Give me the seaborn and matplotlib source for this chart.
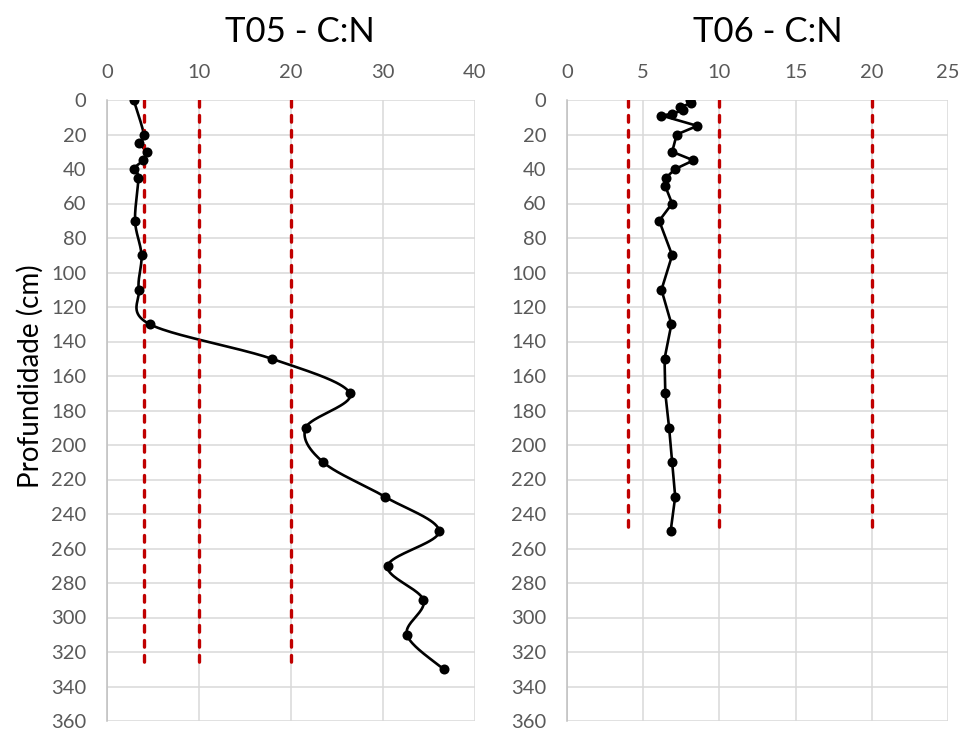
import numpy as np
import pandas as pd
import matplotlib
matplotlib.use("Agg")
import matplotlib.pyplot as plt
import seaborn as sns

# --- C:N profile, trench T05 ---
t05_depth = [0, 20, 25, 30, 35, 40, 45, 70, 90, 110, 130, 150, 170, 190,
             210, 230, 250, 270, 290, 310, 330]
t05_cn = [2.9, 4.0, 3.5, 4.3, 3.9, 2.9, 3.4, 3.05, 3.75, 3.45, 4.65, 17.9,
          26.4, 21.6, 23.5, 30.2, 36.1, 30.5, 34.4, 32.6, 36.6]

# --- C:N profile, trench T06 ---
t06_depth = [0, 2, 4, 6, 8, 9, 15, 20, 30, 35, 40, 45, 50, 60, 70, 90, 110,
             130, 150, 170, 190, 210, 230, 250]
t06_cn = [8.1, 8.15, 7.4, 7.6, 6.9, 6.2, 8.55, 7.2, 6.9, 8.3, 7.1, 6.5, 6.45,
          6.9, 6.05, 6.9, 6.2, 6.85, 6.4, 6.45, 6.7, 6.9, 7.1, 6.8]

# reference C:N thresholds (dashed red lines) and their depth span
ref_cn = [4, 10, 20]
t05_ref_depth = [0, 330]
t06_ref_depth = [0, 250]

t05_xticks = [0, 10, 20, 30, 40]
t06_xticks = [0, 5, 10, 15, 20, 25]
depth_ticks = list(range(0, 361, 20))

titles = ["T05 - C:N", "T06 - C:N"]
ylabel = "Profundidade (cm)"

sns.set_theme(style="white")
plt.rcParams["font.family"] = ["Lato", "DejaVu Sans"]

FIG_W, FIG_H = 963, 733
fig = plt.figure(figsize=(FIG_W / 100, FIG_H / 100), dpi=100)

GRID = "#D9D9D9"
TICK = "#595959"
RED = "#C00000"


def smooth_curve(xs, ys, sx, sy, n=40):
    """Bezier smoothing through every point (spreadsheet-style smoothed line)."""
    P = np.column_stack([np.asarray(xs, float) * sx, np.asarray(ys, float) * sy])
    ext = np.vstack([P[0], P, P[-1]])
    t = np.linspace(0, 1, n)[:, None]
    parts = []
    for i in range(len(P) - 1):
        p0, p1, p2, p3 = ext[i], ext[i + 1], ext[i + 2], ext[i + 3]
        c1 = p1 + (p2 - p0) / 6
        c2 = p2 - (p3 - p1) / 6
        seg = (1 - t) ** 3 * p1 + 3 * (1 - t) ** 2 * t * c1 + 3 * (1 - t) * t ** 2 * c2 + t ** 3 * p2
        parts.append(seg if i == 0 else seg[1:])
    pts = np.vstack(parts)
    return pts[:, 0] / sx, pts[:, 1] / sy


def style_axes(ax, xmax, xticks):
    ax.set_xlim(0, xmax)
    ax.set_ylim(360, 0)
    ax.set_xticks(xticks)
    ax.set_yticks(depth_ticks)
    ax.xaxis.tick_top()
    ax.tick_params(axis="x", length=0, pad=14, labelsize=14.5, labelcolor=TICK)
    ax.tick_params(axis="y", length=0, pad=15, labelsize=14.5, labelcolor=TICK)
    ax.grid(True, color=GRID, linewidth=1.1)
    ax.set_axisbelow(True)
    for side in ["top", "right", "bottom"]:
        ax.spines[side].set_visible(False)
    ax.spines["left"].set_color("#BFBFBF")
    ax.spines["left"].set_linewidth(1.1)
    ax.set_xlabel("")
    ax.set_ylabel("")


BOTTOM = 12
HEIGHT = 621
panels = [
    dict(rect=[107 / FIG_W, BOTTOM / FIG_H, 368 / FIG_W, HEIGHT / FIG_H], xmax=40,
         xticks=t05_xticks, depth=t05_depth, cn=t05_cn, ref_depth=t05_ref_depth,
         smooth=True, title_x=300),
    dict(rect=[567 / FIG_W, BOTTOM / FIG_H, 381 / FIG_W, HEIGHT / FIG_H], xmax=25,
         xticks=t06_xticks, depth=t06_depth, cn=t06_cn, ref_depth=t06_ref_depth,
         smooth=False, title_x=768),
]

for p, title in zip(panels, titles):
    ax = fig.add_axes(p["rect"])
    sx = p["rect"][2] * FIG_W / p["xmax"]
    sy = p["rect"][3] * FIG_H / 360
    if p["smooth"]:
        cx, cy = smooth_curve(p["cn"], p["depth"], sx, sy)
    else:
        cx, cy = np.asarray(p["cn"], float), np.asarray(p["depth"], float)
    curve = pd.DataFrame({"cn": cx, "depth": cy})
    sns.lineplot(data=curve, x="cn", y="depth", sort=False, estimator=None,
                 color="black", linewidth=1.9, ax=ax, zorder=3)
    for v in ref_cn:
        ref = pd.DataFrame({"cn": [v] * len(p["ref_depth"]), "depth": p["ref_depth"]})
        sns.lineplot(data=ref, x="cn", y="depth", sort=False, estimator=None,
                     color=RED, linewidth=2.4, linestyle=(0, (2.0, 2.5)),
                     dash_capstyle="round", ax=ax, zorder=4)
    pts = pd.DataFrame({"cn": p["cn"], "depth": p["depth"]})
    sns.scatterplot(data=pts, x="cn", y="depth", color="black", s=52,
                    edgecolor="black", linewidth=0, ax=ax, zorder=5)
    style_axes(ax, p["xmax"], p["xticks"])
    fig.text(p["title_x"] / FIG_W, 1 - 32 / FIG_H, title, ha="center", va="center",
             fontsize=25, color="black")

fig.text(30 / FIG_W, 1 - 376 / FIG_H, ylabel, rotation=90, ha="center",
         va="center", fontsize=20, color="black")

fig.savefig("out.png", dpi=100)
